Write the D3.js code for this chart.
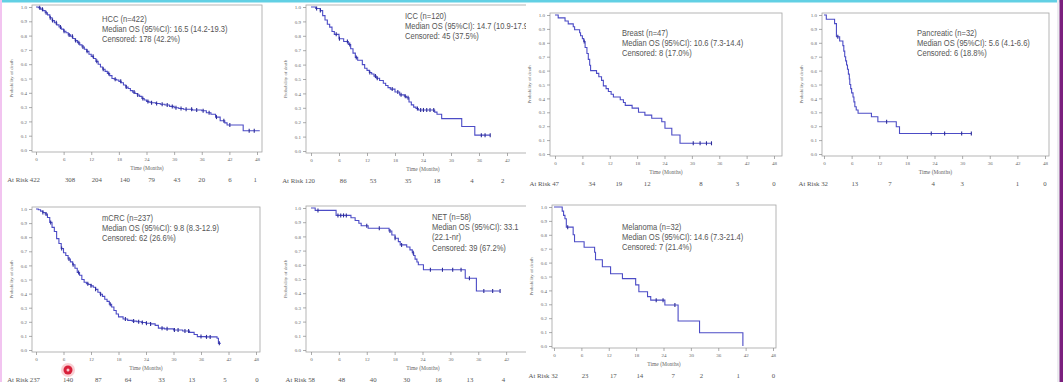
<!DOCTYPE html>
<html>
<head>
<meta charset="utf-8">
<script src="https://cdn.jsdelivr.net/npm/d3@7"></script>
<style>
  body { margin: 0; background: #fff; }
  svg { display: block; }
  .tick text { font-family: 'Liberation Serif', serif; font-size: 5px; fill: #666; }
  .tick line { stroke: #888; stroke-width: 0.7; }
  .axis-label { font-family: 'Liberation Serif', serif; font-size: 5.5px; fill: #666; }
  .at-risk { font-family: 'Liberation Serif', serif; font-size: 6.8px; fill: #555; }
  .note { font-family: 'Liberation Sans', sans-serif; font-size: 8.8px; fill: #555; }
</style>
</head>
<body>
<div id="chart"></div>
<script>
// Set up SVG definitions
let svgWidth = 1063;
let svgHeight = 382;

// axis ticks
let xTicks = [0, 6, 12, 18, 24, 30, 36, 42, 48];
let yTicks = [0, 0.1, 0.2, 0.3, 0.4, 0.5, 0.6, 0.7, 0.8, 0.9, 1.0];

// HCC: steps [months, survival], censored times, at risk
let hccSteps = [[0, 1], [0.5, 0.995], [1, 0.985], [1.5, 0.975], [2, 0.96], [2.5, 0.945], [3, 0.925], [3.5, 0.905],
  [4, 0.89], [4.5, 0.875], [5, 0.86], [5.5, 0.845], [6, 0.83], [6.5, 0.82], [7, 0.805], [7.5, 0.795], [8, 0.78],
  [8.5, 0.765], [9, 0.75], [9.5, 0.735], [10, 0.72], [10.5, 0.705], [11, 0.69], [11.5, 0.67], [12, 0.655],
  [12.5, 0.64], [13, 0.62], [13.5, 0.6], [14, 0.58], [14.5, 0.565], [15, 0.55], [15.5, 0.535], [16, 0.52],
  [16.5, 0.5], [17, 0.495], [17.5, 0.49], [18, 0.48], [18.5, 0.47], [19, 0.455], [19.5, 0.44], [20, 0.43],
  [20.5, 0.415], [21, 0.405], [21.5, 0.395], [22, 0.385], [22.5, 0.375], [23, 0.36], [23.5, 0.35], [24, 0.34],
  [24.5, 0.335], [25, 0.33], [26, 0.325], [27, 0.32], [28, 0.315], [29, 0.305], [30, 0.295], [31, 0.29],
  [32, 0.285], [34, 0.28], [36, 0.275], [37, 0.26], [38, 0.25], [39, 0.23], [40, 0.205], [41, 0.19],
  [41.5, 0.175], [45, 0.135]];
let hccEnd = 48.6;
let hccCensor = [0.8, 1.4, 2.2, 3.1, 3.6, 4.4, 5.3, 6.1, 7.2, 7.9, 8.6, 9.3, 10.2, 11.1, 12.4, 13.2, 14.6, 15.8,
  17.2, 18.4, 19.6, 21.3, 22.1, 23.2, 24.3, 25.1, 26.2, 27.4, 28.5, 29.6, 30.4, 31.5, 32.6, 33.8, 34.9, 36.3,
  37.6, 39.2, 40.8, 42.1, 46.3, 47.4];
let hccAtRisk = [422, 308, 204, 140, 79, 43, 20, 6, 1];
let hccAtRiskTimes = [0, 7.4, 13.2, 19.3, 25.1, 30.6, 36, 42.1, 47.6];
let hccNote = ['HCC (n=422)', 'Median OS (95%CI): 16.5 (14.2-19.3)', 'Censored: 178 (42.2%)'];

// ICC
let iccSteps = [[0, 1], [1, 0.99], [2, 0.975], [2.5, 0.94], [3, 0.91], [3.5, 0.88], [4, 0.86], [4.5, 0.83],
  [5, 0.81], [6, 0.78], [7, 0.76], [8, 0.74], [8.5, 0.71], [9, 0.68], [9.5, 0.65], [10, 0.63], [11, 0.6],
  [11.5, 0.575], [12, 0.56], [12.5, 0.545], [13, 0.535], [13.5, 0.52], [14, 0.505], [14.7, 0.49], [15.5, 0.47],
  [16, 0.455], [16.5, 0.44], [17, 0.43], [18, 0.41], [19, 0.39], [20, 0.38], [20.5, 0.37], [21, 0.34],
  [21.5, 0.32], [22, 0.305], [22.5, 0.295], [23, 0.285], [26.5, 0.27], [27, 0.255], [28, 0.225],
  [32.3, 0.17], [35.1, 0.11]];
let iccEnd = 38.4;
let iccCensor = [1.2, 2.0, 5.4, 6.1, 7.8, 8.3, 9.7, 12.6, 13.8, 14.2, 17.4, 18.6, 19.3, 20.2, 20.8, 22.8, 23.5,
  24.1, 24.8, 25.5, 26.3, 36.5, 37.3, 38.4];
let iccAtRisk = [120, 86, 53, 35, 18, 4, 2];
let iccAtRiskTimes = [0, 6.9, 13.3, 20.8, 27, 34.5, 41.1];
let iccNote = ['ICC (n=120)', 'Median OS (95%CI): 14.7 (10.9-17.9)', 'Censored: 45 (37.5%)'];

// Breast
let breastSteps = [[0, 1], [0.7, 0.979], [2.2, 0.957], [2.9, 0.936], [4.0, 0.915], [4.3, 0.894], [5.4, 0.872],
  [5.6, 0.851], [6.0, 0.83], [6.3, 0.809], [6.6, 0.766], [7.0, 0.723], [7.3, 0.681], [7.6, 0.638], [7.8, 0.6],
  [9.1, 0.58], [9.6, 0.556], [10.2, 0.53], [10.6, 0.49], [11.2, 0.47], [11.7, 0.45], [12.3, 0.43],
  [12.8, 0.41], [14.3, 0.39], [15.0, 0.37], [15.4, 0.35], [16.9, 0.33], [18.3, 0.3], [19.7, 0.28],
  [21.2, 0.257], [23.4, 0.232], [24.1, 0.185], [25.6, 0.137], [27.4, 0.077]];
let breastEnd = 34.3;
let breastCensor = [6.4, 30.3, 31.8, 33.2, 34.3];
let breastAtRisk = [47, 34, 19, 12, 8, 3, 0];
let breastAtRiskTimes = [0, 8.1, 14.0, 20.2, 32.0, 40.0, 48.0];
let breastNote = ['Breast (n=47)', 'Median OS (95%CI): 10.6 (7.3-14.4)', 'Censored: 8 (17.0%)'];

// Pancreatic
let pancSteps = [[0, 1], [0.5, 0.969], [2.3, 0.938], [2.7, 0.844], [3.4, 0.813], [4.1, 0.78], [4.3, 0.74],
  [4.5, 0.7], [4.7, 0.67], [4.9, 0.64], [5.1, 0.61], [5.3, 0.575], [5.5, 0.54], [5.6, 0.5], [5.8, 0.47],
  [6.0, 0.44], [6.3, 0.41], [6.5, 0.375], [6.7, 0.34], [7.0, 0.317], [7.4, 0.293], [10.3, 0.268],
  [11.7, 0.232], [15.7, 0.196], [16.4, 0.148]];
let pancEnd = 32.0;
let pancCensor = [3.0, 13.6, 23.3, 26.2, 29.9, 32.0];
let pancAtRisk = [32, 13, 7, 4, 3, 1, 0];
let pancAtRiskTimes = [0, 6.7, 14.3, 23.7, 30, 42, 48];
let pancNote = ['Pancreatic (n=32)', 'Median OS (95%CI): 5.6 (4.1-6.6)', 'Censored: 6 (18.8%)'];

// mCRC
let mcrcSteps = [[0, 1], [0.5, 0.995], [1, 0.985], [1.5, 0.975], [2, 0.965], [2.5, 0.94], [3, 0.905], [3.5, 0.87],
  [4, 0.84], [4.5, 0.79], [5, 0.755], [5.5, 0.72], [6, 0.69], [6.5, 0.67], [7, 0.645], [7.5, 0.625], [8, 0.605],
  [8.5, 0.58], [9, 0.55], [9.5, 0.53], [10, 0.5], [10.5, 0.48], [11, 0.47], [11.5, 0.465], [12, 0.455],
  [12.5, 0.445], [13, 0.43], [13.5, 0.41], [14, 0.395], [14.5, 0.38], [15, 0.36], [15.5, 0.345], [16, 0.325],
  [16.5, 0.305], [17, 0.28], [17.5, 0.255], [18, 0.235], [19, 0.22], [20, 0.21], [21, 0.205], [22, 0.2],
  [23, 0.195], [24, 0.19], [25, 0.185], [26, 0.175], [26.7, 0.155], [28, 0.15], [30, 0.142], [32, 0.135],
  [33.5, 0.125], [34.5, 0.11], [35.2, 0.095], [37, 0.093], [39.5, 0.083], [39.8, 0.047]];
let mcrcEnd = 40.3;
let mcrcCensor = [1.5, 2.2, 3.2, 5.6, 7.2, 8.1, 9.3, 11.3, 12.0, 13.0, 14.1, 16.2, 19.5, 21.3, 22.4, 23.2, 24.1,
  25.0, 27.5, 28.6, 30.2, 31.0, 32.5, 33.3, 36.0, 37.2, 38.0, 40.0];
let mcrcAtRisk = [237, 140, 87, 64, 33, 13, 5, 0];
let mcrcAtRiskTimes = [0, 7.0, 13.6, 20.1, 27.4, 34.0, 41.2, 48.2];
let mcrcNote = ['mCRC (n=237)', 'Median OS (95%CI): 9.8 (8.3-12.9)', 'Censored: 62 (26.6%)'];

// NET
let netSteps = [[0, 1], [0.9, 0.983], [5.4, 0.948], [8.6, 0.931], [9.5, 0.912], [10.3, 0.893], [10.8, 0.875],
  [12.3, 0.857], [16.8, 0.838], [17.4, 0.81], [18.1, 0.787], [18.8, 0.763], [19.2, 0.74], [20.6, 0.725],
  [21.3, 0.705], [21.8, 0.685], [22.1, 0.665], [22.4, 0.64], [22.8, 0.62], [23.1, 0.6], [24.2, 0.565],
  [33.2, 0.505], [35.6, 0.415]];
let netEnd = 40.7;
let netCensor = [1.5, 5.8, 6.4, 7.0, 7.6, 12.0, 14.7, 17.0, 18.1, 19.5, 22.0, 25.7, 28.3, 30.5, 32.3, 34.1, 37.2,
  39.1, 40.7];
let netAtRisk = [58, 48, 40, 30, 16, 13, 4];
let netAtRiskTimes = [0, 6.6, 13.4, 20.6, 27.4, 34.2, 41.4];
let netNote = ['NET (n=58)', 'Median OS (95%CI): 33.1', '(22.1-nr)', 'Censored: 39 (67.2%)'];

// Melanoma
let melSteps = [[0, 1], [1.8, 0.97], [2.1, 0.94], [2.4, 0.915], [2.7, 0.855], [4.2, 0.8], [4.5, 0.75],
  [6.6, 0.71], [8.9, 0.675], [9.1, 0.62], [10.6, 0.57], [12.4, 0.52], [15.0, 0.485], [17.9, 0.44],
  [18.6, 0.39], [20.5, 0.355], [21.2, 0.33], [24.3, 0.295], [27.2, 0.18], [31.9, 0.095], [41.4, 0]];
let melEnd = 41.4;
let melCensor = [3.0, 22.4, 23.9, 26.5];
let melAtRisk = [32, 23, 17, 14, 7, 2, 1, 0];
let melAtRiskTimes = [0, 6.8, 13.0, 18.8, 26.1, 32.3, 40.4, 48.1];
let melNote = ['Melanoma (n=32)', 'Median OS (95%CI): 14.6 (7.3-21.4)', 'Censored: 7 (21.4%)'];

// panel layout (frame in px, pixel spot of month 0 and month 48)
let panels = [
  { steps: hccSteps, end: hccEnd, censor: hccCensor, atRisk: hccAtRisk, atRiskTimes: hccAtRiskTimes, note: hccNote,
    left: 32, right: 262, top: 5, bottom: 152, x0: 36, x48: 257, textX: 102, textY: 22 },
  { steps: iccSteps, end: iccEnd, censor: iccCensor, atRisk: iccAtRisk, atRiskTimes: iccAtRiskTimes, note: iccNote,
    left: 306, right: 540, top: 5, bottom: 153, x0: 311, x48: 535, textX: 405, textY: 19, clip: 526 },
  { steps: breastSteps, end: breastEnd, censor: breastCensor, atRisk: breastAtRisk, atRiskTimes: breastAtRiskTimes, note: breastNote,
    left: 550, right: 782, top: 13, bottom: 156, x0: 555, x48: 774, textX: 622, textY: 36 },
  { steps: pancSteps, end: pancEnd, censor: pancCensor, atRisk: pancAtRisk, atRiskTimes: pancAtRiskTimes, note: pancNote,
    left: 822, right: 1049, top: 13, bottom: 156, x0: 824, x48: 1045, textX: 917, textY: 36 },
  { steps: mcrcSteps, end: mcrcEnd, censor: mcrcCensor, atRisk: mcrcAtRisk, atRiskTimes: mcrcAtRiskTimes, note: mcrcNote,
    left: 32, right: 260, top: 207, bottom: 352, x0: 36, x48: 256, textX: 102, textY: 221 },
  { steps: netSteps, end: netEnd, censor: netCensor, atRisk: netAtRisk, atRiskTimes: netAtRiskTimes, note: netNote,
    left: 306, right: 540, top: 206, bottom: 352, x0: 311, x48: 534, textX: 432, textY: 220, clip: 526 },
  { steps: melSteps, end: melEnd, censor: melCensor, atRisk: melAtRisk, atRiskTimes: melAtRiskTimes, note: melNote,
    left: 552, right: 776, top: 205, bottom: 348, x0: 554, x48: 773, textX: 622, textY: 230 }
];

let svg = d3.select('#chart').append('svg')
  .attr('width', svgWidth)
  .attr('height', svgHeight);

svg.append('rect').attr('width', svgWidth).attr('height', svgHeight).attr('fill', '#fff');

// survival value at time t
function survivalAt(steps, t) {
  let s = steps[0][1];
  steps.forEach(d => { if (d[0] <= t) s = d[1]; });
  return s;
}

panels.forEach(function (p, i) {
  let g = svg.append('g');

  if (p.clip) {
    svg.append('clipPath').attr('id', 'clip' + i)
      .append('rect').attr('x', 0).attr('y', 0).attr('width', p.clip).attr('height', svgHeight);
    g.attr('clip-path', `url(#clip${i})`);
  }

  let x = d3.scaleLinear().domain([0, 48]).range([p.x0, p.x48]);
  let y = d3.scaleLinear().domain([0, 1]).range([p.bottom - 2, p.top + 2]);

  // frame
  g.append('rect')
    .attr('x', p.left).attr('y', p.top)
    .attr('width', p.right - p.left).attr('height', p.bottom - p.top)
    .attr('fill', 'none').attr('stroke', '#a4a4a4').attr('stroke-width', 0.8);

  // axes
  g.append('g')
    .attr('transform', `translate(${p.left},0)`)
    .call(d3.axisLeft(y).tickValues(yTicks).tickSize(3).tickPadding(2).tickFormat(d3.format('.1f')))
    .call(a => a.select('.domain').remove());

  g.append('g')
    .attr('transform', `translate(0,${p.bottom})`)
    .call(d3.axisBottom(x).tickValues(xTicks).tickSize(3).tickPadding(2))
    .call(a => a.select('.domain').remove());

  g.append('text')
    .classed('axis-label', true)
    .attr('x', (p.left + p.right) / 2)
    .attr('y', p.bottom + 18)
    .attr('text-anchor', 'middle')
    .text('Time (Months)');

  g.append('text')
    .classed('axis-label', true)
    .attr('transform', `translate(${p.left - 19},${(p.top + p.bottom) / 2}) rotate(-90)`)
    .attr('text-anchor', 'middle')
    .style('font-size', '4.8px')
    .text('Probability of death');

  // curve
  let pts = p.steps.concat([[p.end, p.steps[p.steps.length - 1][1]]]);
  let line = d3.line()
    .x(d => x(d[0]))
    .y(d => y(d[1]))
    .curve(d3.curveStepAfter);

  g.append('path')
    .datum(pts)
    .attr('d', line)
    .attr('fill', 'none')
    .attr('stroke', '#4c4cc6')
    .attr('stroke-width', 1.1);

  // censor marks
  g.selectAll('.cens')
    .data(p.censor)
    .enter()
    .append('line')
    .attr('x1', d => x(d)).attr('x2', d => x(d))
    .attr('y1', d => y(survivalAt(p.steps, d)) - 2)
    .attr('y2', d => y(survivalAt(p.steps, d)) + 2)
    .attr('stroke', '#2c2c98')
    .attr('stroke-width', 1.1);

  // note
  let note = g.append('g')
    .attr('transform', `translate(${p.textX},${p.textY}) scale(0.86,1)`);
  note.selectAll('text')
    .data(p.note)
    .enter()
    .append('text')
    .classed('note', true)
    .attr('x', 0)
    .attr('y', (d, k) => k * 10.2)
    .text(d => d);

  // at risk row
  g.append('text')
    .classed('at-risk', true)
    .attr('x', x(0) + 4)
    .attr('y', p.bottom + 30)
    .attr('text-anchor', 'end')
    .text('At Risk ' + p.atRisk[0]);

  g.selectAll('.risk')
    .data(p.atRisk.slice(1))
    .enter()
    .append('text')
    .classed('at-risk', true)
    .attr('x', (d, k) => x(p.atRiskTimes[k + 1]))
    .attr('y', p.bottom + 30)
    .attr('text-anchor', 'middle')
    .text(d => d);
});

// slide edges
svg.append('rect').attr('x', 0).attr('y', 0).attr('width', svgWidth).attr('height', 2.5).attr('fill', '#62d0e4');
svg.append('rect').attr('x', 0).attr('y', 0).attr('width', 2).attr('height', svgHeight).attr('fill', '#f2c4f0');
svg.append('rect').attr('x', 1057).attr('y', 0).attr('width', 2.5).attr('height', svgHeight).attr('fill', '#ececf0');
svg.append('rect').attr('x', 1059.5).attr('y', 0).attr('width', 3.5).attr('height', svgHeight).attr('fill', '#7b1f7e');

// pointer highlight
svg.append('circle').attr('cx', 68).attr('cy', 370).attr('r', 7).attr('fill', '#f4a0a8').attr('opacity', 0.5);
svg.append('circle').attr('cx', 68).attr('cy', 370).attr('r', 4.5).attr('fill', '#d8203a');
svg.append('circle').attr('cx', 68).attr('cy', 370).attr('r', 1.5).attr('fill', '#f8c8cc');
</script>
</body>
</html>
